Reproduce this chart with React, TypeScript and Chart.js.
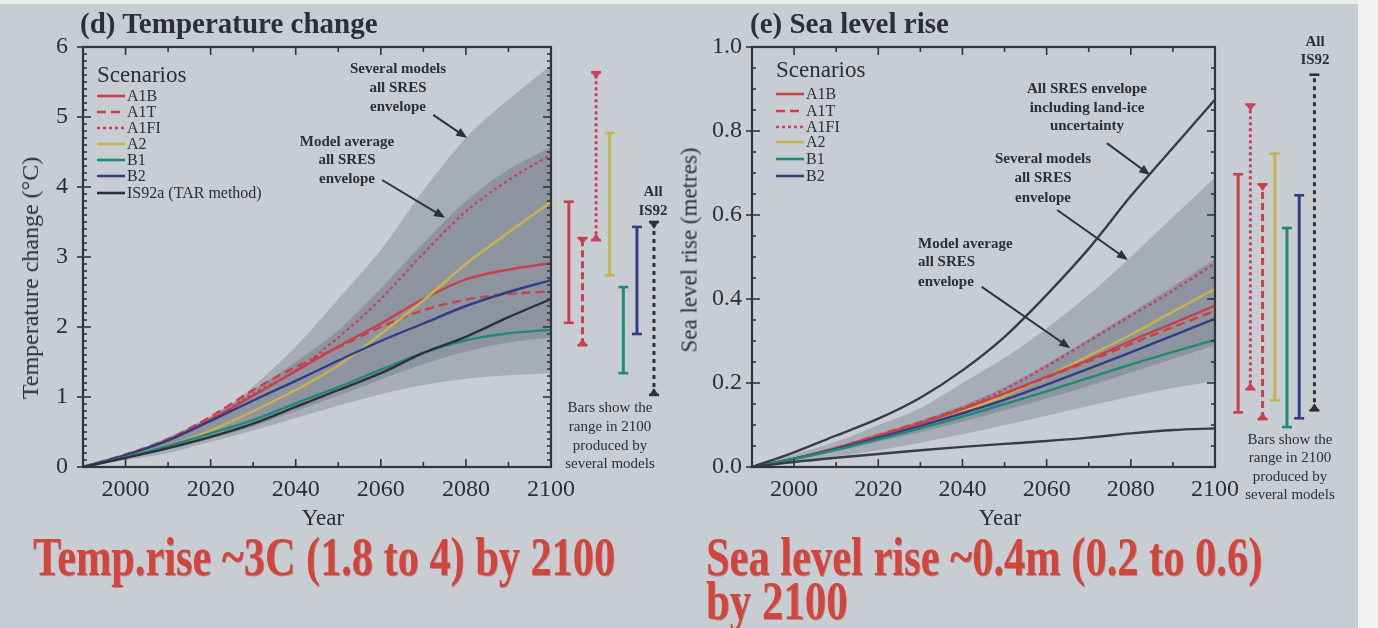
import React, { useEffect, useLayoutEffect, useRef, useState } from "react";
import { Chart, registerables } from "chart.js";
Chart.register(...registerables);

const SERIF = '"Liberation Serif", "Times New Roman", serif';
Chart.defaults.font.family = SERIF;

// ---------- data ----------
const YEARS = [1990, 2000, 2010, 2020, 2030, 2040, 2050, 2060, 2070, 2080, 2090, 2100];

// (d) Temperature change (°C)
const T_OUTER_LOW = [0, 0.1, 0.2, 0.36, 0.52, 0.7, 0.88, 1.04, 1.17, 1.26, 1.31, 1.34];
const T_OUTER_HIGH = [0, 0.17, 0.35, 0.68, 1.15, 1.72, 2.4, 3.1, 3.95, 4.7, 5.25, 5.74];
const T_INNER_LOW = [0, 0.12, 0.25, 0.4, 0.58, 0.8, 1.02, 1.25, 1.47, 1.65, 1.78, 1.85];
const T_INNER_HIGH = [0, 0.18, 0.42, 0.72, 1.1, 1.5, 1.95, 2.55, 3.2, 3.8, 4.25, 4.57];
const T_A1B = [0, 0.17, 0.38, 0.68, 1.02, 1.37, 1.72, 2.05, 2.4, 2.68, 2.82, 2.91];
const T_A1T = [0, 0.18, 0.4, 0.72, 1.1, 1.43, 1.71, 2.0, 2.24, 2.39, 2.47, 2.51];
const T_A1FI = [0, 0.17, 0.38, 0.67, 1.05, 1.38, 1.85, 2.4, 3.05, 3.65, 4.1, 4.46];
const T_A2 = [0, 0.15, 0.3, 0.52, 0.8, 1.1, 1.45, 1.9, 2.38, 2.9, 3.35, 3.79];
const T_B1 = [0, 0.14, 0.3, 0.48, 0.67, 0.91, 1.14, 1.39, 1.63, 1.81, 1.91, 1.96];
const T_B2 = [0, 0.17, 0.38, 0.66, 0.95, 1.23, 1.52, 1.8, 2.05, 2.3, 2.5, 2.67];
const T_IS92A = [0, 0.13, 0.27, 0.43, 0.62, 0.86, 1.1, 1.34, 1.63, 1.86, 2.14, 2.4];

const T_BAR_NAMES = ["A1B", "A1T", "A1FI", "A2", "B1", "B2", "IS92"];
const T_BAR_LOW = [2.06, 1.74, 3.24, 2.74, 1.34, 1.9, 1.03];
const T_BAR_HIGH = [3.79, 3.27, 5.64, 4.77, 2.57, 3.43, 3.5];

// (e) Sea level rise (metres)
const S_OUTER_LOW = [0, 0.012, 0.025, 0.04, 0.058, 0.078, 0.1, 0.122, 0.145, 0.168, 0.188, 0.205];
const S_OUTER_HIGH = [0, 0.03, 0.06, 0.1, 0.14, 0.2, 0.26, 0.33, 0.41, 0.5, 0.595, 0.69];
const S_INNER_LOW = [0, 0.017, 0.037, 0.06, 0.083, 0.108, 0.135, 0.163, 0.193, 0.225, 0.258, 0.29];
const S_INNER_HIGH = [0, 0.022, 0.048, 0.079, 0.11, 0.147, 0.19, 0.245, 0.305, 0.367, 0.43, 0.495];
const S_ICE_HIGH = [0, 0.035, 0.075, 0.115, 0.165, 0.23, 0.31, 0.41, 0.52, 0.645, 0.76, 0.875];
const S_ICE_LOW = [0, 0.012, 0.022, 0.031, 0.04, 0.048, 0.055, 0.062, 0.07, 0.08, 0.088, 0.092];
const S_A1B = [0, 0.02, 0.045, 0.074, 0.104, 0.138, 0.175, 0.215, 0.255, 0.3, 0.342, 0.384];
const S_A1T = [0, 0.02, 0.046, 0.076, 0.107, 0.14, 0.175, 0.213, 0.252, 0.293, 0.333, 0.372];
const S_A1FI = [0, 0.02, 0.045, 0.075, 0.105, 0.14, 0.185, 0.24, 0.3, 0.36, 0.42, 0.485];
const S_A2 = [0, 0.02, 0.043, 0.07, 0.1, 0.133, 0.17, 0.215, 0.265, 0.315, 0.37, 0.424];
const S_B1 = [0, 0.019, 0.041, 0.066, 0.092, 0.12, 0.15, 0.18, 0.212, 0.244, 0.274, 0.303];
const S_B2 = [0, 0.02, 0.043, 0.07, 0.098, 0.128, 0.16, 0.196, 0.234, 0.273, 0.313, 0.353];

const S_BAR_NAMES = ["A1B", "A1FI", "A1T", "A2", "B1", "B2", "IS92"];
const S_BAR_LOW = [0.13, 0.185, 0.114, 0.159, 0.095, 0.116, 0.135];
const S_BAR_HIGH = [0.697, 0.863, 0.673, 0.746, 0.569, 0.647, 0.934];

const T_TICK_LABELS = ["0", "1", "2", "3", "4", "5", "6"];
const S_TICK_LABELS = ["0.0", "0.2", "0.4", "0.6", "0.8", "1.0"];
const X_TICK_LABELS = ["2000", "2020", "2040", "2060", "2080", "2100"];

// annotation arrows, in data coordinates [year, value]
const T_ARROWS = [
  { from: [2072.3, 5.03], to: [2080.3, 4.7] },
  { from: [2060.3, 4.1], to: [2075.1, 3.56] },
];
const S_ARROWS = [
  { from: [2074.3, 0.771], to: [2084.6, 0.695] },
  { from: [2062.5, 0.612], to: [2079.3, 0.493] },
  { from: [2044.6, 0.429], to: [2065.6, 0.283] },
];

// ---------- styles ----------
const BG = "#c8ccd3";
const AXIS = "#30343b";
const TXT = "#2b2f36";
const OUTER_FILL = "#a7adb7";
const INNER_FILL = "#8d949f";
const CAPTION_RED = "#d3443b";

const SCEN: Record<string, { color: string; dash: number[]; barDash: number[] }> = {
  A1B: { color: "#c8414a", dash: [], barDash: [] },
  A1T: { color: "#c8414a", dash: [9, 5], barDash: [7, 4] },
  A1FI: { color: "#c9415f", dash: [3, 3], barDash: [3, 3] },
  A2: { color: "#c8b24c", dash: [], barDash: [] },
  B1: { color: "#1d8a78", dash: [], barDash: [] },
  B2: { color: "#323d88", dash: [], barDash: [] },
  IS92: { color: "#2c3038", dash: [], barDash: [4, 4] },
};

const series = (vals: number[]) => YEARS.map((x, i) => ({ x, y: vals[i] }));

function envelope(low: number[], high: number[], color: string, order: number) {
  const base = {
    type: "line",
    borderWidth: 0,
    borderColor: "transparent",
    pointRadius: 0,
    cubicInterpolationMode: "monotone",
    order,
  };
  return [
    { ...base, data: series(low), fill: false, backgroundColor: "transparent" },
    { ...base, data: series(high), fill: "-1", backgroundColor: color },
  ];
}

function lineDs(vals: number[], key: string, color?: string) {
  const s = SCEN[key];
  return {
    type: "line",
    data: series(vals),
    borderColor: color || s.color,
    borderWidth: 2.4,
    borderDash: s ? s.dash : [],
    pointRadius: 0,
    fill: false,
    cubicInterpolationMode: "monotone",
    order: 1,
  };
}

function barDs(names: string[], low: number[], high: number[], slot: number, start: number, is92Caps: string[]) {
  return names.map((n, i) => {
    const s = SCEN[n];
    const x = start + slot * (i + 1) + (n === "IS92" ? slot * 0.25 : 0);
    const tri = n === "A1T" || n === "A1FI";
    const caps = n === "IS92" ? is92Caps : tri ? ["triangle", "triangle"] : ["line", "line"];
    return {
      type: "line",
      data: [{ x, y: low[i] }, { x, y: high[i] }],
      borderColor: s.color,
      borderWidth: 3,
      borderDash: s.barDash,
      tension: 0,
      pointRadius: 0,
      clip: false,
      fill: false,
      order: 0,
      rangeCaps: caps,
    };
  });
}

const framePlugin = {
  id: "frame",
  afterDatasetsDraw(chart: any, _args: any, opts: any) {
    const { ctx, chartArea: a, scales } = chart;
    const x = scales.x, y = scales.y;
    ctx.save();
    ctx.setLineDash([]);
    const seg = (x1: number, y1: number, x2: number, y2: number) => {
      ctx.beginPath(); ctx.moveTo(x1, y1); ctx.lineTo(x2, y2); ctx.stroke();
    };
    // caps of the 2100 range bars
    chart.data.datasets.forEach((ds: any, di: number) => {
      if (!ds.rangeCaps) return;
      const meta = chart.getDatasetMeta(di);
      ctx.strokeStyle = ds.borderColor;
      ctx.fillStyle = ds.borderColor;
      ctx.lineWidth = 2.6;
      meta.data.forEach((pt: any, k: number) => {
        const px = pt.x, py = pt.y;
        const dir = k === 0 ? -1 : 1;
        seg(px - 5, py, px + 5, py);
        if (ds.rangeCaps[k] === "triangle") {
          ctx.beginPath();
          ctx.moveTo(px - 4.5, py);
          ctx.lineTo(px + 4.5, py);
          ctx.lineTo(px, py + dir * 7);
          ctx.closePath();
          ctx.fill();
        }
      });
    });
    ctx.strokeStyle = AXIS;
    ctx.lineWidth = 1.6;
    x.ticks.forEach((t: any) => {
      const px = x.getPixelForValue(t.value);
      const major = Math.round(t.value) % 20 === 0;
      const len = major ? 8 : 5;
      seg(px, a.bottom, px, a.bottom - len);
      seg(px, a.top, px, a.top + len);
    });
    y.ticks.forEach((t: any) => {
      const py = y.getPixelForValue(t.value);
      const r = t.value / opts.yMajor;
      const major = Math.abs(r - Math.round(r)) < 1e-6;
      if (major) {
        seg(a.left - 6, py, a.left + 8, py);
        seg(a.right - 8, py, a.right, py);
      } else {
        seg(a.left, py, a.left + 4, py);
        seg(a.right - 4, py, a.right, py);
      }
    });
    ctx.lineWidth = 2.2;
    ctx.strokeRect(a.left, a.top, a.right - a.left, a.bottom - a.top);
    // arrows
    ctx.strokeStyle = "#2d3139";
    ctx.fillStyle = "#2d3139";
    ctx.lineWidth = 2;
    (opts.arrows || []).forEach((ar: any) => {
      const x1 = x.getPixelForValue(ar.from[0]), y1 = y.getPixelForValue(ar.from[1]);
      const x2 = x.getPixelForValue(ar.to[0]), y2 = y.getPixelForValue(ar.to[1]);
      const ang = Math.atan2(y2 - y1, x2 - x1);
      const hl = 11, hw = 4.5;
      const c = Math.cos(ang), s = Math.sin(ang);
      seg(x1, y1, x2 - c * hl * 0.7, y2 - s * hl * 0.7);
      ctx.beginPath();
      ctx.moveTo(x2, y2);
      ctx.lineTo(x2 - c * hl - s * hw, y2 - s * hl + c * hw);
      ctx.lineTo(x2 - c * hl + s * hw, y2 - s * hl - c * hw);
      ctx.closePath();
      ctx.fill();
    });
    ctx.restore();
  },
};

function makeConfig(p: any) {
  return {
    type: "line",
    data: { datasets: p.datasets },
    plugins: [framePlugin],
    options: {
      responsive: false,
      animation: false,
      events: [],
      layout: { padding: { top: 47, right: p.padRight, bottom: 0, left: 0 } },
      plugins: {
        legend: { display: false },
        tooltip: { enabled: false },
        title: { display: false },
        frame: { yMajor: p.yMajor, arrows: p.arrows },
      },
      scales: {
        x: {
          type: "linear",
          afterDataLimits: (s: any) => { s.min = 1990; s.max = 2100; },
          afterFit: (s: any) => { s.height = p.xHeight; },
          grid: { display: false, drawTicks: false },
          border: { display: false },
          ticks: {
            stepSize: 10,
            autoSkip: false,
            maxRotation: 0,
            padding: 8,
            color: TXT,
            font: { size: 24 },
            callback: (v: number) => {
              const lbl = String(Math.round(v));
              return X_TICK_LABELS.includes(lbl) ? lbl : "";
            },
          },
        },
        y: {
          type: "linear",
          min: 0,
          max: p.yMax,
          afterFit: (s: any) => { s.width = p.yWidth; },
          grid: { display: false, drawTicks: false },
          border: { display: false },
          ticks: {
            stepSize: p.yStep,
            autoSkip: false,
            padding: p.yPad,
            color: TXT,
            font: { size: 24 },
            callback: (v: number) => {
              const r = v / p.yMajor;
              if (Math.abs(r - Math.round(r)) > 1e-6) return "";
              return p.yLabels[Math.round(r)] ?? "";
            },
          },
        },
      },
    },
  };
}

const tempConfig = makeConfig({
  datasets: [
    ...envelope(T_OUTER_LOW, T_OUTER_HIGH, OUTER_FILL, 20),
    ...envelope(T_INNER_LOW, T_INNER_HIGH, INNER_FILL, 10),
    lineDs(T_IS92A, "IS92"),
    lineDs(T_B1, "B1"),
    lineDs(T_B2, "B2"),
    lineDs(T_A2, "A2"),
    lineDs(T_A1B, "A1B"),
    lineDs(T_A1T, "A1T"),
    lineDs(T_A1FI, "A1FI"),
    ...barDs(T_BAR_NAMES, T_BAR_LOW, T_BAR_HIGH, 3.2, 2101, ["triangle", "triangle"]),
  ],
  padRight: 139,
  xHeight: 78,
  yWidth: 83,
  yMax: 6,
  yStep: 0.1,
  yMajor: 1,
  yPad: 15,
  yLabels: T_TICK_LABELS,
  arrows: T_ARROWS,
});

const seaConfig = makeConfig({
  datasets: [
    ...envelope(S_OUTER_LOW, S_OUTER_HIGH, OUTER_FILL, 20),
    ...envelope(S_INNER_LOW, S_INNER_HIGH, INNER_FILL, 10),
    lineDs(S_ICE_HIGH, "IS92", "#373c46"),
    lineDs(S_ICE_LOW, "IS92", "#373c46"),
    lineDs(S_B1, "B1"),
    lineDs(S_B2, "B2"),
    lineDs(S_A1T, "A1T"),
    lineDs(S_A1B, "A1B"),
    lineDs(S_A2, "A2"),
    lineDs(S_A1FI, "A1FI"),
    ...barDs(S_BAR_NAMES, S_BAR_LOW, S_BAR_HIGH, 2.9, 2102.6, ["triangle", "line"]),
  ],
  padRight: 163,
  xHeight: 78,
  yWidth: 92,
  yMax: 1,
  yStep: 0.05,
  yMajor: 0.2,
  yPad: 10,
  yLabels: S_TICK_LABELS,
  arrows: S_ARROWS,
});

// ---------- components ----------
function ChartCanvas({ config, left, width, height }: any) {
  const ref = useRef<HTMLCanvasElement>(null);
  useEffect(() => {
    const chart = new Chart(ref.current as HTMLCanvasElement, config as any);
    return () => chart.destroy();
  }, []);
  return (
    <canvas
      ref={ref}
      width={width}
      height={height}
      style={{ position: "absolute", left, top: 0, width, height }}
    />
  );
}

// text positioned by its baseline (Liberation Serif metrics)
function Txt({ x, base, size, text, align = "left", weight = "normal", color = TXT }: any) {
  const top = base - 0.8375 * size;
  const st: any = {
    position: "absolute",
    top,
    fontSize: size,
    lineHeight: `${size}px`,
    whiteSpace: "nowrap",
    color,
    fontWeight: weight,
  };
  if (align === "center") {
    st.left = x - 300;
    st.width = 600;
    st.textAlign = "center";
  } else st.left = x;
  return <div style={st}>{text}</div>;
}

function Block({ x, bases, size, lines, align = "center", weight = "bold" }: any) {
  return (
    <>
      {lines.map((l: string, i: number) => (
        <Txt key={i} x={x} base={bases[i]} size={size} text={l} align={align} weight={weight} />
      ))}
    </>
  );
}

function FitText({ x, base, size, width, text }: any) {
  const ref = useRef<HTMLSpanElement>(null);
  const [sx, setSx] = useState(1);
  useLayoutEffect(() => {
    const w = ref.current ? ref.current.offsetWidth : 0;
    if (w) setSx(width / w);
  }, []);
  return (
    <div
      style={{
        position: "absolute",
        left: x,
        top: base - 0.8375 * size,
        whiteSpace: "nowrap",
        transformOrigin: "0 0",
        transform: `scaleX(${sx})`,
        fontSize: size,
        lineHeight: `${size}px`,
        fontWeight: "bold",
        color: CAPTION_RED,
        textShadow: "1px 1px 0 rgba(110,30,30,0.35)",
      }}
    >
      <span ref={ref}>{text}</span>
    </div>
  );
}

function Legend({ x, titleBase, bases, items }: any) {
  return (
    <>
      <Txt x={x} base={titleBase} size={23} text="Scenarios" />
      {items.map((it: any, i: number) => {
        const s = SCEN[it.key];
        return (
          <React.Fragment key={i}>
            <svg
              width={28}
              height={6}
              style={{ position: "absolute", left: x, top: bases[i] - 8 }}
            >
              <line
                x1={0}
                y1={3}
                x2={28}
                y2={3}
                stroke={s.color}
                strokeWidth={2.6}
                strokeDasharray={s.dash.length ? s.dash.join(",") : undefined}
              />
            </svg>
            <Txt x={x + 30} base={bases[i]} size={16} text={it.label} />
          </React.Fragment>
        );
      })}
    </>
  );
}

function RotTitle({ cx, cy, size, text }: any) {
  return (
    <div
      style={{
        position: "absolute",
        left: cx,
        top: cy,
        transform: "translate(-50%, -50%) rotate(-90deg)",
        fontSize: size,
        lineHeight: `${size}px`,
        whiteSpace: "nowrap",
        color: TXT,
      }}
    >
      {text}
    </div>
  );
}

const T_LEGEND = [
  { key: "A1B", label: "A1B" },
  { key: "A1T", label: "A1T" },
  { key: "A1FI", label: "A1FI" },
  { key: "A2", label: "A2" },
  { key: "B1", label: "B1" },
  { key: "B2", label: "B2" },
  { key: "IS92", label: "IS92a (TAR method)" },
];
const S_LEGEND = T_LEGEND.slice(0, 6);

export default function App() {
  return (
    <div
      style={{
        position: "absolute",
        left: 0,
        top: 0,
        width: 1378,
        height: 628,
        background: BG,
        overflow: "hidden",
        fontFamily: SERIF,
      }}
    >
      <div style={{ position: "absolute", left: 0, top: 0, width: 1378, height: 4, background: "#ececea" }} />
      <div style={{ position: "absolute", left: 1358, top: 0, width: 20, height: 628, background: "#f3f3f1" }} />

      <ChartCanvas config={tempConfig} left={0} width={690} height={545} />
      <ChartCanvas config={seaConfig} left={660} width={718} height={545} />

      {/* titles */}
      <Txt x={80} base={33} size={29} text="(d) Temperature change" weight="bold" />
      <Txt x={750} base={33} size={29} text="(e) Sea level rise" weight="bold" />

      {/* axis titles */}
      <RotTitle cx={30} cy={278} size={24} text="Temperature change (°C)" />
      <RotTitle cx={689} cy={250} size={23} text="Sea level rise (metres)" />
      <Txt x={323} base={525} size={23} text="Year" align="center" />
      <Txt x={1000} base={525} size={23} text="Year" align="center" />

      {/* legends */}
      <Legend x={97} titleBase={82} bases={[101, 117, 133, 149, 165, 181, 198]} items={T_LEGEND} />
      <Legend x={776} titleBase={77} bases={[99, 116, 132, 147, 164, 181]} items={S_LEGEND} />

      {/* annotations: temperature */}
      <Block x={398} bases={[74, 93, 112]} size={15} lines={["Several models", "all SRES", "envelope"]} />
      <Block x={347} bases={[147, 165, 184]} size={15} lines={["Model average", "all SRES", "envelope"]} />
      <Block x={653} bases={[197, 216]} size={15} lines={["All", "IS92"]} />
      <Block
        x={610}
        bases={[413, 432, 451, 469]}
        size={15}
        weight="normal"
        lines={["Bars show the", "range in 2100", "produced by", "several models"]}
      />

      {/* annotations: sea level */}
      <Block
        x={1087}
        bases={[94, 113, 131]}
        size={15}
        lines={["All SRES envelope", "including land-ice", "uncertainty"]}
      />
      <Block x={1043} bases={[164, 183, 203]} size={15} lines={["Several models", "all SRES", "envelope"]} />
      <Block
        x={918}
        bases={[249, 267, 287]}
        size={15}
        align="left"
        lines={["Model average", "all SRES", "envelope"]}
      />
      <Block x={1315} bases={[47, 65]} size={15} lines={["All", "IS92"]} />
      <Block
        x={1290}
        bases={[445, 463, 482, 500]}
        size={15}
        weight="normal"
        lines={["Bars show the", "range in 2100", "produced by", "several models"]}
      />

      {/* captions */}
      <FitText x={33} base={575} size={54} width={582} text="Temp.rise ~3C (1.8 to 4) by 2100" />
      <FitText x={706} base={575} size={54} width={556} text="Sea level rise ~0.4m (0.2 to 0.6)" />
      <FitText x={706} base={619} size={54} width={142} text="by 2100" />
    </div>
  );
}
